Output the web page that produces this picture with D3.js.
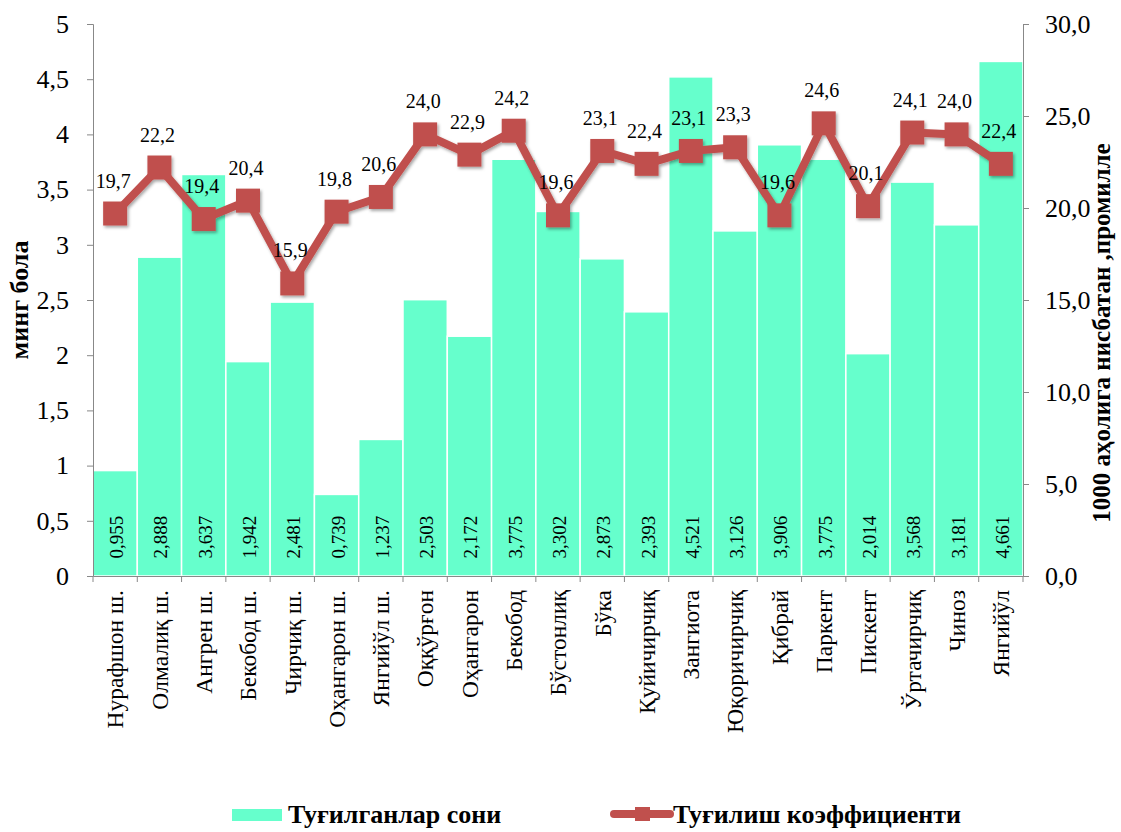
<!DOCTYPE html>
<html>
<head>
<meta charset="utf-8">
<script src="https://cdn.jsdelivr.net/npm/d3@7"></script>
<style>
  body { margin: 0; background: #fff; }
  svg text { font-family: "Liberation Serif", serif; }
</style>
</head>
<body>
<svg id="chart" width="1121" height="832"></svg>
<script>
const categories = ['Нурафшон ш.', 'Олмалиқ ш.', 'Ангрен ш.', 'Бекобод ш.', 'Чирчиқ ш.',
  'Оҳангарон ш.', 'Янгийўл ш.', 'Оққўрғон', 'Оҳангарон', 'Бекобод', 'Бўстонлиқ', 'Бўка',
  'Қуйичирчиқ', 'Зангиота', 'Юқоричирчиқ', 'Қибрай', 'Паркент', 'Пискент', 'Ўртачирчиқ',
  'Чиноз', 'Янгийўл']
const births = [0.955, 2.888, 3.637, 1.942, 2.481, 0.739, 1.237, 2.503, 2.172, 3.775,
  3.302, 2.873, 2.393, 4.521, 3.126, 3.906, 3.775, 2.014, 3.568, 3.181, 4.661]
const rate = [19.7, 22.2, 19.4, 20.4, 15.9, 19.8, 20.6, 24.0, 22.9, 24.2,
  19.6, 23.1, 22.4, 23.1, 23.3, 19.6, 24.6, 20.1, 24.1, 24.0, 22.4]
const leftTicks = [0, 0.5, 1, 1.5, 2, 2.5, 3, 3.5, 4, 4.5, 5]
const rightTicks = [0, 5, 10, 15, 20, 25, 30]

const svg = d3.select('#chart')
const m = { left: 93, right: 1023, top: 24, bottom: 576 }
const fmt = d3.format('.1f')
const comma = s => String(s).replace('.', ',')
const serif = '"Liberation Serif", serif'

const x = d3.scaleBand()
  .domain(d3.range(categories.length))
  .range([m.left, m.right])
  .padding(0)

const yL = d3.scaleLinear().domain([0, 5]).range([m.bottom, m.top])
const yR = d3.scaleLinear().domain([0, 30]).range([m.bottom, m.top])

// столбцы
svg.append('g').selectAll('rect')
  .data(births)
  .join('rect')
  .attr('x', (d, i) => x(i))
  .attr('y', d => yL(d))
  .attr('width', x.bandwidth())
  .attr('height', d => yL(0) - yL(d))
  .attr('fill', '#66FFCC')
  .attr('stroke', '#fff')
  .attr('stroke-width', 1.5)

// подписи столбцов
svg.append('g').selectAll('text')
  .data(births)
  .join('text')
  .attr('transform', (d, i) => `translate(${x(i) + x.bandwidth() / 2 + 8}, 537) rotate(-90)`)
  .attr('text-anchor', 'middle')
  .attr('font-family', serif)
  .style('font-size', '19px')
  .text(d => d.toFixed(3).replace('.', ','))

// оси
const axisColor = '#888'
const gl = svg.append('g')
  .attr('transform', `translate(${m.left},0)`)
  .call(d3.axisLeft(yL).tickValues(leftTicks).tickSize(6).tickSizeOuter(6).tickFormat(d => comma(d)))
gl.selectAll('text').attr('font-family', serif).style('font-size', '26px').attr('x', -24).attr('fill', '#000')

const gr = svg.append('g')
  .attr('transform', `translate(${m.right},0)`)
  .call(d3.axisRight(yR).tickValues(rightTicks).tickSize(6).tickSizeOuter(6).tickFormat(d => comma(fmt(d))))
gr.selectAll('text').attr('font-family', serif).style('font-size', '26px').attr('x', 22).attr('fill', '#000')

const gx = svg.append('g')
  .attr('transform', `translate(0,${m.bottom})`)
  .call(d3.axisBottom(x).tickSize(0).tickSizeOuter(0).tickFormat(i => categories[i]))
gx.selectAll('text')
  .attr('font-family', serif)
  .style('font-size', '23.5px')
  .attr('fill', '#000')
  .attr('text-anchor', 'end')
  .attr('transform', 'rotate(-90)')
  .attr('x', -14)
  .attr('y', 0)
  .attr('dy', '0.35em')
// засечки по границам категорий
gx.selectAll('line.edge')
  .data(d3.range(categories.length + 1))
  .join('line')
  .attr('x1', i => m.left + i * x.step())
  .attr('x2', i => m.left + i * x.step())
  .attr('y1', 0).attr('y2', 6)
  .attr('stroke', axisColor)

svg.selectAll('.domain, .tick line').attr('stroke', axisColor)

// линия коэффициента
const cx = i => x(i) + x.bandwidth() / 2
const defs = svg.append('defs')
const f = defs.append('filter').attr('id', 'sh').attr('x', '-20%').attr('y', '-20%').attr('width', '140%').attr('height', '140%')
f.append('feDropShadow').attr('dx', 1.5).attr('dy', 2).attr('stdDeviation', 1.5).attr('flood-color', '#000').attr('flood-opacity', 0.35)

const lg = svg.append('g').attr('filter', 'url(#sh)')
lg.append('path')
  .datum(rate)
  .attr('d', d3.line().x((d, i) => cx(i)).y(d => yR(d)))
  .attr('fill', 'none')
  .attr('stroke', '#C0504D')
  .attr('stroke-width', 8)
  .attr('stroke-linejoin', 'round')

lg.selectAll('rect')
  .data(rate)
  .join('rect')
  .attr('x', (d, i) => cx(i) - 12)
  .attr('y', d => yR(d) - 12)
  .attr('width', 24)
  .attr('height', 24)
  .attr('fill', '#C0504D')

svg.append('g').selectAll('text')
  .data(rate)
  .join('text')
  .attr('x', (d, i) => cx(i) - 2)
  .attr('y', d => yR(d) - 26)
  .attr('text-anchor', 'middle')
  .attr('font-family', serif)
  .style('font-size', '20px')
  .text(d => comma(fmt(d)))

// заголовки осей
svg.append('text')
  .attr('transform', 'translate(28,300) rotate(-90)')
  .attr('text-anchor', 'middle')
  .attr('font-family', serif)
  .style('font-size', '26px')
  .style('font-weight', 'bold')
  .text('минг бола')

svg.append('text')
  .attr('transform', 'translate(1110,333) rotate(-90)')
  .attr('text-anchor', 'middle')
  .attr('font-family', serif)
  .style('font-size', '25px')
  .style('font-weight', 'bold')
  .text('1000 аҳолига нисбатан ,промилле')

// легенда
const leg = svg.append('g')
leg.append('rect').attr('x', 232).attr('y', 809).attr('width', 50).attr('height', 12).attr('fill', '#66FFCC')
leg.append('text').attr('x', 288).attr('y', 823).attr('font-family', serif).style('font-size', '26px').style('font-weight', 'bold').text('Туғилганлар сони')
leg.append('line').attr('x1', 614).attr('x2', 670).attr('y1', 814).attr('y2', 814)
  .attr('stroke', '#C0504D').attr('stroke-width', 8).attr('stroke-linecap', 'round')
leg.append('rect').attr('x', 635).attr('y', 807).attr('width', 15).attr('height', 14).attr('fill', '#C0504D')
leg.append('text').attr('x', 673).attr('y', 823).attr('font-family', serif).style('font-size', '26px').style('font-weight', 'bold').text('Туғилиш коэффициенти')
</script>
</body>
</html>
